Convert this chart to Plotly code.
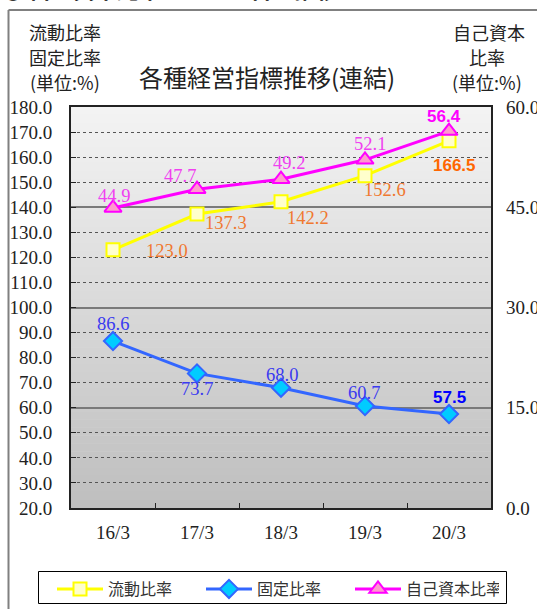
import plotly.graph_objects as go

categories = ["16/3", "17/3", "18/3", "19/3", "20/3"]
current_ratio = [123.0, 137.3, 142.2, 152.6, 166.5]      # 流動比率
fixed_ratio = [86.6, 73.7, 68.0, 60.7, 57.5]             # 固定比率
equity_ratio = [44.9, 47.7, 49.2, 52.1, 56.4]            # 自己資本比率 (right axis)
left_ticks = [20 + 10 * i for i in range(17)]
right_ticks = [0, 15, 30, 45, 60]

JP = "Noto Sans CJK JP"
SERIF = "Liberation Serif, DejaVu Serif, Times New Roman, serif"
BOLD = "Liberation Sans, Arial, DejaVu Sans, sans-serif"

fig = go.Figure()
fig.add_trace(go.Scatter(
    x=categories, y=current_ratio, name="流動比率", mode="lines+markers",
    line=dict(color="#ffff00", width=3),
    marker=dict(symbol="square", size=13, color="#ffffcc", line=dict(color="#ffff00", width=2)),
))
fig.add_trace(go.Scatter(
    x=categories, y=fixed_ratio, name="固定比率", mode="lines+markers",
    line=dict(color="#3366ff", width=3),
    marker=dict(symbol="diamond", size=14, color="#00ccff", line=dict(color="#3366ff", width=2)),
))
fig.add_trace(go.Scatter(
    x=categories, y=equity_ratio, name="自己資本比率", mode="lines+markers", yaxis="y2",
    line=dict(color="#ff00ff", width=3),
    marker=dict(symbol="triangle-up", size=15, color="#ff99cc", line=dict(color="#ff00ff", width=2)),
))

# data labels (offsets in px are styling)
cur_off = [(54, -1), (29, -9), (27, -16), (20, -14), (5, -25)]
fix_off = [(0, 17), (0, -16), (1, 13), (-1, 13), (0, 17)]
eq_off = [(1, 12), (-17, 13), (8, 16), (5, 16), (-5, 15)]

annotations = []
def add_labels(values, offsets, yref, color, last_color):
    n = len(values)
    for i, (c, v) in enumerate(zip(categories, values)):
        last = i == n - 1
        annotations.append(dict(
            x=c, y=v, xref="x", yref=yref, text=f"{v:.1f}", showarrow=False,
            xshift=offsets[i][0], yshift=offsets[i][1],
            font=dict(family=BOLD if last else SERIF, size=17 if last else 18.5,
                      color=last_color if last else color,
                      weight="bold" if last else "normal"),
        ))

add_labels(current_ratio, cur_off, "y", "#f07830", "#ff6600")
add_labels(fixed_ratio, fix_off, "y", "#3a3af0", "#0000ff")
add_labels(equity_ratio, eq_off, "y2", "#f040f0", "#ff00ff")

L, R, T, B = 71, 46, 107, 101
W, H = 537, 609
pw, ph = W - L - R, H - T - B
def px(x):
    return (x - L) / pw
def py(y):
    return (H - B - y) / ph

def header(text, x, y, size=18):
    annotations.append(dict(x=px(x), y=py(y), xref="paper", yref="paper", text=text,
                            showarrow=False, xanchor="center", yanchor="middle",
                            font=dict(family=JP, size=size, color="#222222")))

header("流動比率", 65, 32)
header("固定比率", 65, 57)
header("(単位:%)", 65, 82)
header("自己資本", 489, 32)
header("比率", 487, 57)
header("(単位:%)", 487, 82)
header("各種経営指標推移(連結)", 267, 76, size=24)
annotations.append(dict(x=px(0), y=py(6), xref="paper", yref="paper",
                        text="① 自己資本比率は56.4%台を推移", showarrow=False,
                        xanchor="left", yanchor="bottom",
                        font=dict(family=JP, size=22, color="#000000", weight="bold")))

shapes = []
# gradient background of plot area
N = 50
top = (244, 244, 244)
bot = (190, 190, 190)
for i in range(N):
    t = (i + 0.5) / N
    col = tuple(round(top[k] + (bot[k] - top[k]) * t) for k in range(3))
    shapes.append(dict(type="rect", xref="x domain", yref="y domain",
                       x0=0, x1=1, y0=1 - (i + 1) / N, y1=1 - i / N + 0.001,
                       fillcolor="rgb(%d,%d,%d)" % col, line=dict(width=0), layer="below"))
# outer frame
shapes.append(dict(type="line", xref="paper", yref="paper", x0=px(8.5), x1=px(8.5), y0=py(10), y1=py(612),
                   line=dict(color="#808080", width=2)))
shapes.append(dict(type="line", xref="paper", yref="paper", x0=px(8.5), x1=px(540), y0=py(10), y1=py(10),
                   line=dict(color="#808080", width=2)))
# legend frame
shapes.append(dict(type="rect", xref="paper", yref="paper", x0=px(38.5), x1=px(506.5), y0=py(571.5), y1=py(603.5),
                   line=dict(color="#000000", width=1), fillcolor="white", layer="above"))

fig.update_layout(
    width=W, height=H,
    margin=dict(l=L, r=R, t=T, b=B, autoexpand=False),
    paper_bgcolor="white", plot_bgcolor="#e0e0e0",
    showlegend=True,
    legend=dict(orientation="h", x=px(52), y=py(572), xanchor="left", yanchor="top",
                borderwidth=0, bgcolor="rgba(0,0,0,0)",
                font=dict(family=JP, size=16, color="#333333"),
                itemwidth=46, entrywidth=88, entrywidthmode="pixels",
                traceorder="normal"),
    xaxis=dict(type="category", categoryorder="array", categoryarray=categories,
               range=[-0.5, len(categories) - 0.5],
               showline=True, linecolor="#222222", linewidth=2, mirror=True,
               ticks="inside", tickson="boundaries", ticklen=5, tickcolor="#222222",
               showgrid=False, ticklabelstandoff=6,
               tickfont=dict(family=SERIF, size=19, color="#222222")),
    yaxis=dict(range=[20, 180], tickvals=left_ticks, tickformat=".1f",
               showline=True, linecolor="#222222", linewidth=2, mirror=True,
               ticks="inside", ticklen=5, tickcolor="#222222",
               showgrid=True, gridcolor="#555555", griddash="dot", gridwidth=1,
               zeroline=False, ticklabelstandoff=13,
               tickfont=dict(family=SERIF, size=19, color="#222222")),
    yaxis2=dict(range=[0, 60], tickvals=right_ticks, tickformat=".1f",
                overlaying="y", side="right", showline=False,
                ticks="", showgrid=True, gridcolor="#7a7a7a", gridwidth=1.5,
                zeroline=False, ticklabelstandoff=14,
                tickfont=dict(family=SERIF, size=19, color="#222222")),
    annotations=annotations,
    shapes=shapes,
)

fig.write_html(
    "out.html",
    config={"displayModeBar": False},
    post_script="document.body.style.margin='0';document.body.style.overflow='hidden';",
)
